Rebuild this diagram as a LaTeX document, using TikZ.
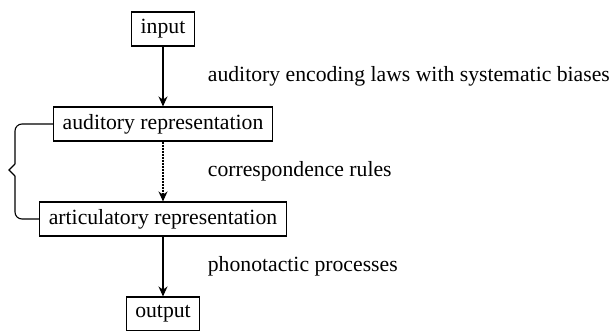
\documentclass[tikz,border=0pt]{standalone}
\usepackage{fontspec}
\setmainfont{Liberation Serif}
\usepackage{tikz}
\usetikzlibrary{positioning,arrows.meta}

\tikzset{
  stage/.style={draw,line width=1.1pt,minimum height=34pt,inner xsep=9pt,
    font=\fontsize{21.7}{24}\selectfont},
  law/.style={right=41pt,font=\fontsize{21.7}{24}\selectfont}
}

\begin{document}
\begin{tikzpicture}[x=1pt,y=-1pt,node distance=95pt,on grid,
    >={Stealth[length=10pt,width=9pt]},line width=1.1pt]
      \useasboundingbox (0,0) rectangle (614,330);
      \node[stage] (in) at (163,29) {input};
      \node[stage] (aud) [below=of in] {auditory representation};
      \node[stage] (art) [below=of aud] {articulatory representation};
      \node[stage] (out) [below=of art] {output};

      \path[->]
        (in) edge node[law] {auditory encoding laws with systematic biases} (aud)
        (art) edge node[law] {phonotactic processes} (out);
      \path[->,dash pattern=on 2pt off 1pt]
        (aud) edge node[law] {correspondence rules} (art);

      % brace joining the two representations
      \coordinate (tip) at (9,170);
      \coordinate (up) at (15,164);
      \coordinate (dn) at (15,176);
      \draw[rounded corners=7pt] (aud.west) -| (up);
      \draw (up) -- (tip) -- (dn);
      \draw[rounded corners=7pt] (dn) |- (art.west);
\end{tikzpicture}
\end{document}
